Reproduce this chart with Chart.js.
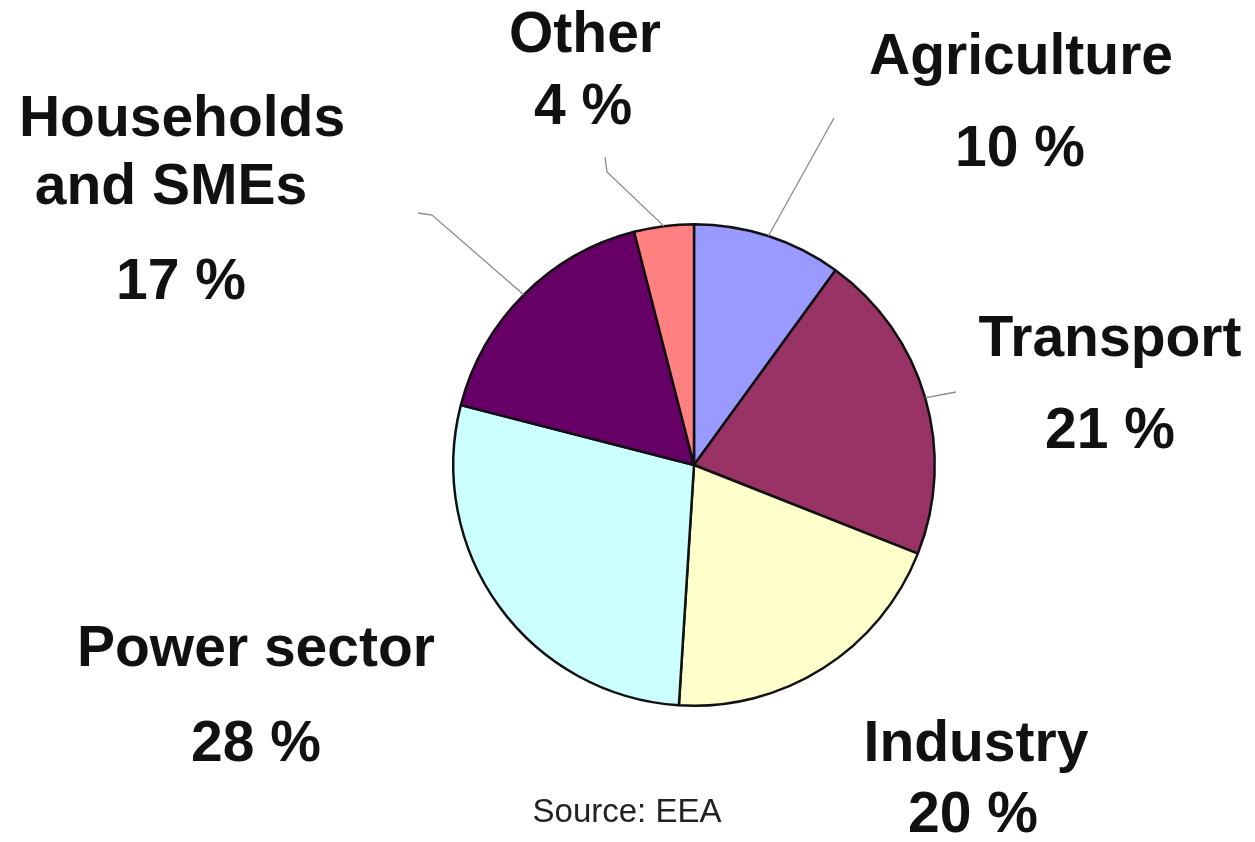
<!DOCTYPE html>
<html lang="en">
<head>
    <meta charset="UTF-8">
    <title>Emissions by sector</title>
    <style>
        body {
            margin: 0;
            background: #fff;
        }
        #wrap {
            width: 1255px;
            height: 842px;
        }
    </style>
</head>
<body>
    <div id="wrap">
        <canvas id="pieChart" width="1255" height="842"></canvas>
    </div>

    <script src="https://cdn.jsdelivr.net/npm/chart.js"></script>
    <script>
        // Data (clockwise from 12 o'clock)
        const sectors = ['Agriculture', 'Transport', 'Industry', 'Power sector', 'Households and SMEs', 'Other'];
        const shares = [10, 21, 20, 28, 17, 4];
        const sliceColors = ['#9999ff', '#993366', '#ffffcc', '#ccffff', '#660066', '#ff8080'];

        // Label text lines and where they sit
        const labelSpots = [
            { lines: [['Agriculture', 1021, 58], ['10 %', 1020, 150]] },
            { lines: [['Transport', 1110, 340], ['21 %', 1110, 432]] },
            { lines: [['Industry', 976, 745], ['20 %', 973, 816]] },
            { lines: [['Power sector', 256, 650], ['28 %', 256, 745]] },
            { lines: [['Households', 182, 120], ['and SMEs', 171, 188], ['17 %', 181, 283]] },
            { lines: [['Other', 585, 36], ['4 %', 583, 108]] }
        ];

        // Leader lines: extra points after the one on the slice edge
        const leaders = [
            [[834, 118]],
            [[956, 392]],
            null,
            null,
            [[432, 215], [418, 213]],
            [[607, 172], [605, 157]]
        ];

        const labelPlugin = {
            id: 'sliceLabels',
            afterDraw(chart) {
                const ctx = chart.ctx;
                const arcs = chart.getDatasetMeta(0).data;
                ctx.save();

                // leader lines
                ctx.strokeStyle = '#8a8a8a';
                ctx.lineWidth = 1.3;
                arcs.forEach((arc, i) => {
                    const pts = leaders[i];
                    if (!pts) return;
                    const mid = (arc.startAngle + arc.endAngle) / 2;
                    ctx.beginPath();
                    ctx.moveTo(arc.x + Math.cos(mid) * arc.outerRadius, arc.y + Math.sin(mid) * arc.outerRadius);
                    pts.forEach(p => ctx.lineTo(p[0], p[1]));
                    ctx.stroke();
                });

                // labels
                ctx.fillStyle = '#111';
                ctx.textAlign = 'center';
                ctx.textBaseline = 'middle';
                ctx.font = 'bold 57px "Liberation Sans", Arial, sans-serif';
                labelSpots.forEach(spot => {
                    spot.lines.forEach(l => ctx.fillText(l[0], l[1], l[2]));
                });

                // source note
                ctx.fillStyle = '#222';
                ctx.font = '33px "Liberation Sans", Arial, sans-serif';
                ctx.fillText('Source: EEA', 627, 813);
                ctx.restore();
            }
        };

        const ctx = document.getElementById('pieChart').getContext('2d');
        const pieChart = new Chart(ctx, {
            type: 'pie',
            data: {
                labels: sectors,
                datasets: [{
                    data: shares,
                    backgroundColor: sliceColors,
                    borderColor: '#111',
                    borderWidth: 2.5
                }]
            },
            options: {
                responsive: false,
                animation: false,
                layout: {
                    padding: { top: 223, bottom: 135, left: 452, right: 319 }
                },
                plugins: {
                    legend: { display: false },
                    tooltip: { enabled: false }
                }
            },
            plugins: [labelPlugin]
        });
    </script>
</body>
</html>
